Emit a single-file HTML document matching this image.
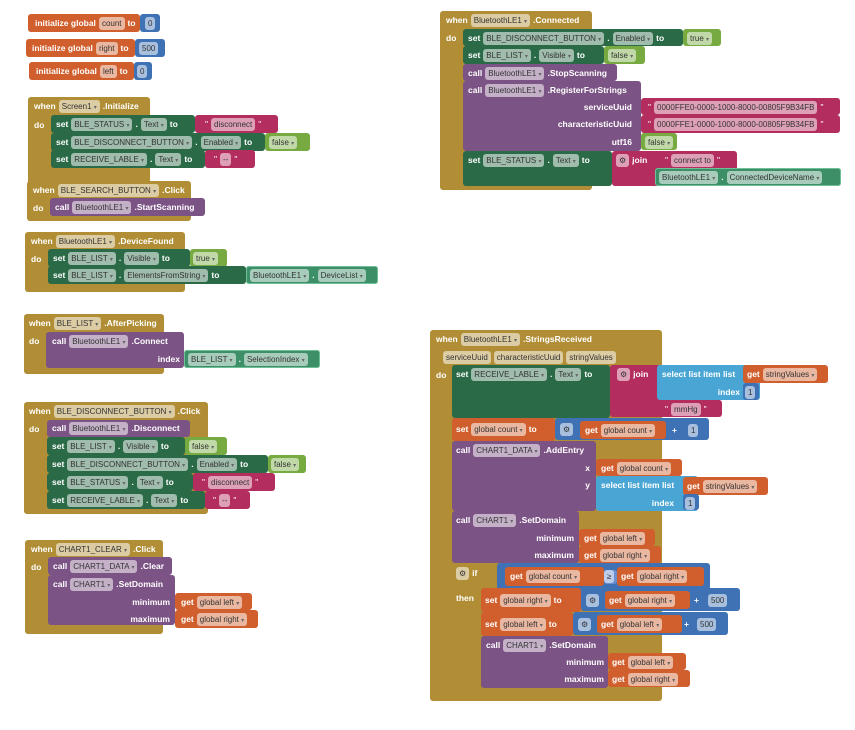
<!DOCTYPE html>
<html><head><meta charset="utf-8">
<style>
html,body{margin:0;padding:0;background:#fff;width:855px;height:730px;overflow:hidden;position:relative}
.b{position:absolute;border-radius:3px}
.r{position:absolute;display:flex;align-items:center;gap:3px;height:14px;font-family:"Liberation Sans",sans-serif;font-size:8.5px;color:#fff;white-space:nowrap;font-weight:bold}
.p{background:rgba(255,255,255,0.55);color:#333;font-weight:normal;border-radius:3px;padding:0 3px;height:13px;line-height:13px;font-size:8px}
.p i{font-style:normal;font-size:6px;color:#666}
.q{color:#fff;font-weight:normal}
</style></head><body>
<script>
var G='#b18e35',S='#2a6a47',P='#7c5385',M='#b32d5e',L='#77ab41',B='#3f71b5',O='#d05f2d',LB='#49a6d4',C='#3d8f68';
var H='';
function b(x,y,w,h,c,br){H+='<div class="b" style="left:'+x+'px;top:'+y+'px;width:'+w+'px;height:'+h+'px;background:'+c+(br?';box-shadow:inset 0 0 0 1px '+br:'')+'"></div>';}
function r(x,y,a,al){H+='<div class="r" style="left:'+x+'px;top:'+y+'px'+(al?';justify-content:flex-end;width:'+al+'px':'')+'">'+a.map(function(s){if(s.indexOf('p:')==0)return '<span class="p">'+s.slice(2)+'</span>';if(s.indexOf('d:')==0)return '<span class="p">'+s.slice(2)+' <i>▾</i></span>';if(s=='"')return '<span class="q">"</span>';return '<span>'+s+'</span>';}).join('')+'</div>';}
// globals
b(28,14,112,18,O);b(140,14,20,18,B);r(35,16,['initialize global','p:count','to']);r(145,16,['p:0']);
b(26,39,109,18,O);b(135,39,30,18,B);r(32,41,['initialize global','p:right','to']);r(139,41,['p:500']);
b(29,62,105,18,O);b(134,62,18,18,B);r(36,64,['initialize global','p:left','to']);r(137,64,['p:0']);
// Screen1.Initialize
b(28,97,122,88,G);b(51,115,144,18,S);b(195,115,83,18,M);b(51,133,214,18,S);b(265,133,45,18,L);b(51,150,154,18,S);b(205,150,50,18,M);
r(34,99,['when','d:Screen1','.Initialize']);r(34,118,['do']);
r(56,117,['set','d:BLE_STATUS','.','d:Text','to']);r(205,117,['"','p:disconnect','"']);
r(56,135,['set','d:BLE_DISCONNECT_BUTTON','.','d:Enabled','to']);r(269,135,['d:false']);
r(56,152,['set','d:RECEIVE_LABLE','.','d:Text','to']);r(214,152,['"','p:--','"']);
// search click
b(27,181,164,40,G);b(50,198,155,18,P);r(33,183,['when','d:BLE_SEARCH_BUTTON','.Click']);r(33,201,['do']);r(55,200,['call','d:BluetoothLE1','.StartScanning']);
// DeviceFound
b(25,232,160,60,G);b(48,249,142,18,S);b(190,249,37,18,L);b(48,266,198,18,S);b(246,266,132,18,C,'#6fbf98');
r(31,234,['when','d:BluetoothLE1','.DeviceFound']);r(31,252,['do']);
r(53,251,['set','d:BLE_LIST','.','d:Visible','to']);r(193,251,['d:true']);
r(53,268,['set','d:BLE_LIST','.','d:ElementsFromString','to']);r(250,268,['d:BluetoothLE1','.','d:DeviceList']);
// AfterPicking
b(24,314,140,60,G);b(46,332,138,36,P);b(184,350,136,18,C,'#6fbf98');
r(29,316,['when','d:BLE_LIST','.AfterPicking']);r(29,334,['do']);r(52,334,['call','d:BluetoothLE1','.Connect']);r(100,352,['index'],80);r(188,352,['d:BLE_LIST','.','d:SelectionIndex']);
// Disconnect click
b(24,402,184,112,G);b(47,420,143,17,P);b(47,437,138,18,S);b(185,437,42,18,L);b(47,455,221,18,S);b(268,455,38,18,L);b(47,473,146,18,S);b(193,473,82,18,M);b(47,491,158,18,S);b(205,491,45,18,M);
r(29,404,['when','d:BLE_DISCONNECT_BUTTON','.Click']);r(29,422,['do']);
r(52,421,['call','d:BluetoothLE1','.Disconnect']);
r(52,439,['set','d:BLE_LIST','.','d:Visible','to']);r(189,439,['d:false']);
r(52,457,['set','d:BLE_DISCONNECT_BUTTON','.','d:Enabled','to']);r(271,457,['d:false']);
r(52,475,['set','d:BLE_STATUS','.','d:Text','to']);r(202,475,['"','p:disconnect','"']);
r(52,493,['set','d:RECEIVE_LABLE','.','d:Text','to']);r(213,493,['"','p:--','"']);
// CHART1_CLEAR
b(25,540,138,94,G);b(48,557,124,18,P);b(48,575,127,50,P);b(175,593,77,17,O);b(175,610,83,18,O);
r(31,542,['when','d:CHART1_CLEAR','.Click']);r(31,560,['do']);
r(53,559,['call','d:CHART1_DATA','.Clear']);r(53,577,['call','d:CHART1','.SetDomain']);
r(100,595,['minimum'],70);r(100,612,['maximum'],70);r(181,595,['get','d:global left']);r(181,612,['get','d:global right']);
// Connected
b(440,11,152,179,G);b(463,29,220,17,S);b(683,29,38,17,L);b(463,46,141,18,S);b(604,46,41,18,L);b(463,64,154,17,P);b(463,81,178,70,P);
b(641,98,199,17,M);b(641,115,199,18,M);b(641,133,36,17,L);b(463,151,149,35,S);b(612,151,125,35,M);b(655,168,186,18,C,'#6fbf98');
r(446,13,['when','d:BluetoothLE1','.Connected']);r(446,31,['do']);
r(468,31,['set','d:BLE_DISCONNECT_BUTTON','.','d:Enabled','to']);r(687,31,['d:true']);
r(468,48,['set','d:BLE_LIST','.','d:Visible','to']);r(608,48,['d:false']);
r(468,66,['call','d:BluetoothLE1','.StopScanning']);
r(468,83,['call','d:BluetoothLE1','.RegisterForStrings']);
r(500,100,['serviceUuid'],132);r(500,117,['characteristicUuid'],132);r(500,135,['utf16'],132);
r(648,100,['"','p:0000FFE0-0000-1000-8000-00805F9B34FB','"']);r(648,117,['"','p:0000FFE1-0000-1000-8000-00805F9B34FB','"']);r(645,135,['d:false']);
r(468,153,['set','d:BLE_STATUS','.','d:Text','to']);r(616,153,['p:⚙','join']);r(665,153,['"','p:connect to','"']);r(659,170,['d:BluetoothLE1','.','d:ConnectedDeviceName']);
// StringsReceived
b(430,330,232,371,G);
b(452,365,158,53,S);b(610,365,110,52,M);b(657,365,103,35,LB);b(743,365,85,18,O);b(743,383,16,17,B);b(657,400,65,17,M);
b(452,418,103,23,O);b(555,418,154,22,B);b(580,421,86,18,O);b(686,421,18,16,B);
b(452,441,144,70,P);b(596,459,86,17,O);b(596,476,102,35,LB);b(683,477,85,18,O);b(683,494,16,16,B);
b(452,511,127,52,P);b(579,529,76,17,O);b(579,546,82,17,O);
b(452,563,45,130,G);b(497,563,213,27,B);b(505,567,99,19,O);b(617,567,87,19,O);b(604,570,13,14,'#6b8fd0');
b(481,588,100,24,O);b(581,588,159,23,B);b(605,591,85,18,O);b(706,591,30,16,B);
b(481,612,92,24,O);b(573,612,155,23,B);b(597,615,85,18,O);b(695,615,30,16,B);
b(481,636,127,52,P);b(608,653,78,17,O);b(608,670,82,17,O);
r(436,332,['when','d:BluetoothLE1','.StringsReceived']);r(443,350,['p:serviceUuid','p:characteristicUuid','p:stringValues']);
r(436,368,['do']);
r(456,367,['set','d:RECEIVE_LABLE','.','d:Text','to']);r(617,367,['p:⚙','join']);r(662,367,['select list item  list']);r(747,367,['get','d:stringValues']);r(690,385,['index'],50);r(745,385,['p:1']);r(665,402,['"','p:mmHg','"']);
r(456,422,['set','d:global count','to']);r(560,422,['p:⚙']);r(585,423,['get','d:global count']);r(672,423,['+']);r(688,423,['p:1']);
r(456,443,['call','d:CHART1_DATA','.AddEntry']);r(540,461,['x'],50);r(540,478,['y'],50);r(601,461,['get','d:global count']);r(601,478,['select list item  list']);r(687,479,['get','d:stringValues']);r(630,496,['index'],44);r(685,496,['p:1']);
r(456,513,['call','d:CHART1','.SetDomain']);r(500,531,['minimum'],74);r(500,548,['maximum'],74);r(584,531,['get','d:global left']);r(584,548,['get','d:global right']);
r(456,566,['p:⚙','if']);r(456,591,['then']);r(510,569,['get','d:global count']);r(604,569,['p:≥']);r(621,569,['get','d:global right']);
r(485,593,['set','d:global right','to']);r(586,593,['p:⚙']);r(609,593,['get','d:global right']);r(694,593,['+']);r(708,593,['p:500']);
r(485,617,['set','d:global left','to']);r(578,617,['p:⚙']);r(601,617,['get','d:global left']);r(684,617,['+']);r(697,617,['p:500']);
r(486,638,['call','d:CHART1','.SetDomain']);r(530,655,['minimum'],74);r(530,672,['maximum'],74);r(612,655,['get','d:global left']);r(612,672,['get','d:global right']);
document.write(H);
</script>
</body></html>
